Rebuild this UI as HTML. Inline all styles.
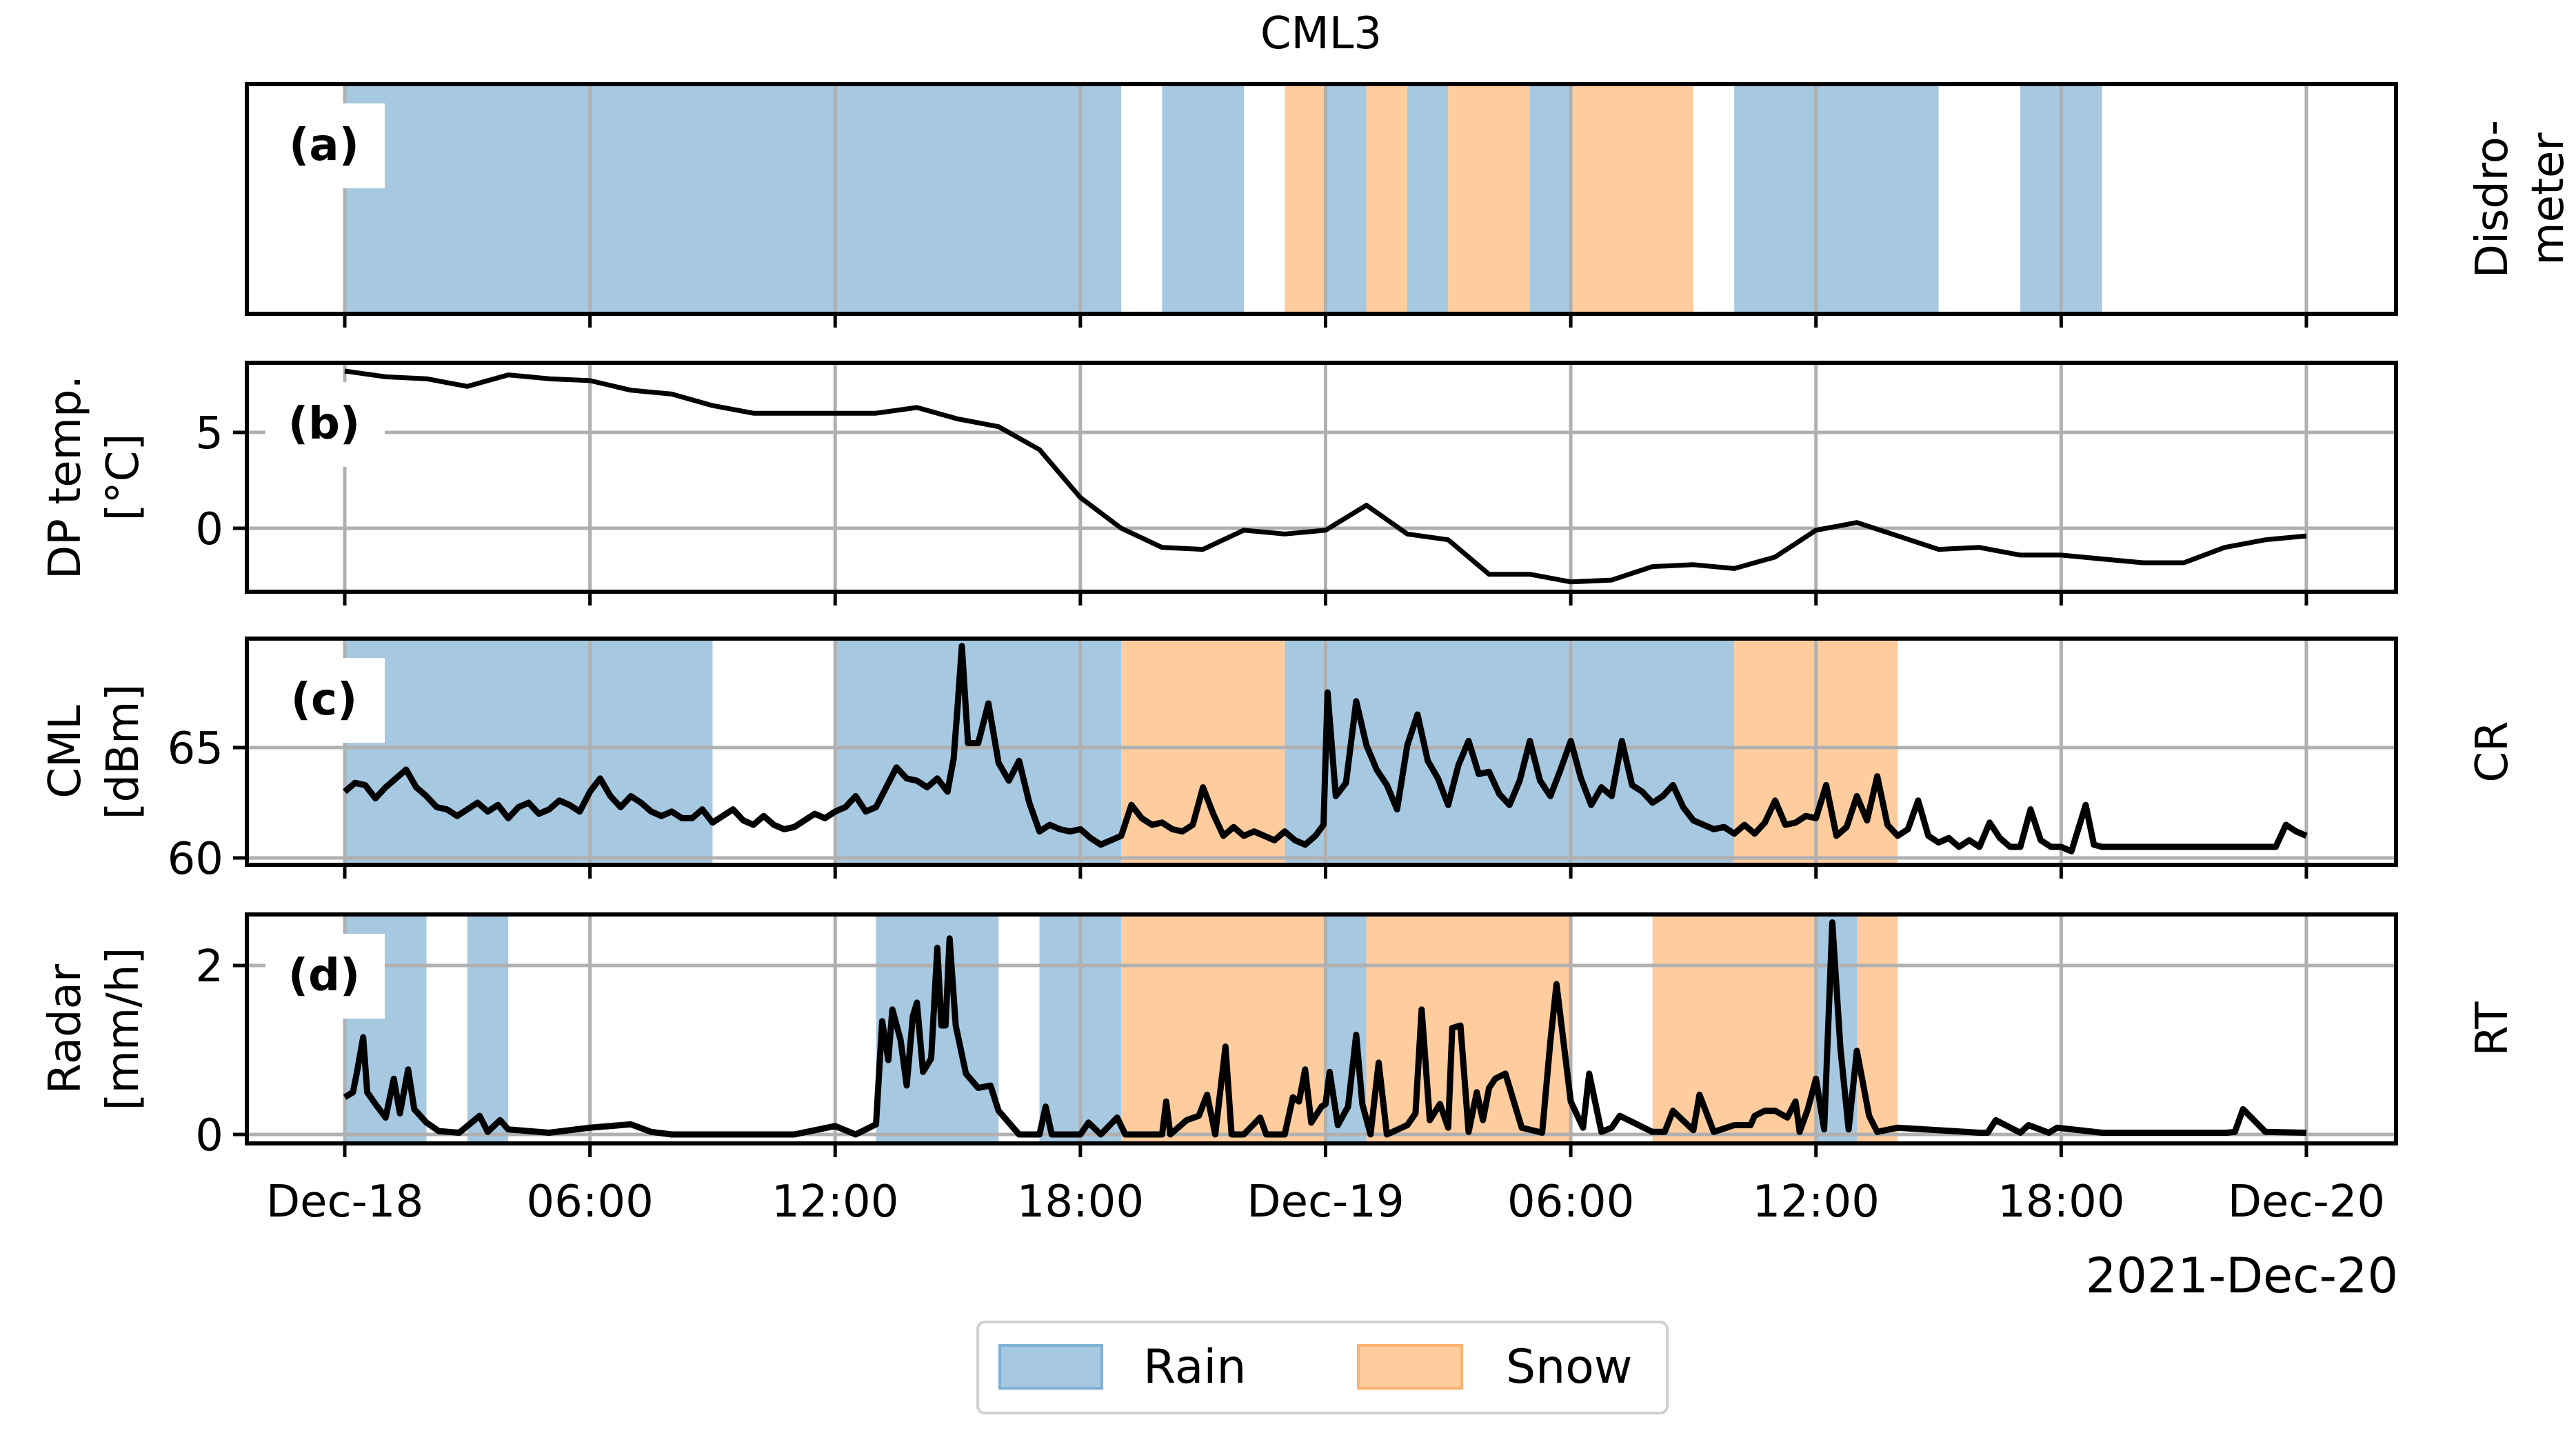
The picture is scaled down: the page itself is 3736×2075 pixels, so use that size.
<!DOCTYPE html>
<html><head><meta charset="utf-8"><style>
html,body{margin:0;padding:0;background:#fff;}
svg{display:block;font-family:"DejaVu Sans","Liberation Sans",sans-serif;}
</style></head><body>
<svg id="chart" xmlns="http://www.w3.org/2000/svg" width="3736" height="2075" viewBox="0 0 3736 2075"></svg>
<script>
// ---- data (hours since 2021-12-18 00:00) ----
const xTickLabels = ["Dec-18","06:00","12:00","18:00","Dec-19","06:00","12:00","18:00","Dec-20"];
const xTickHours = [0,6,12,18,24,30,36,42,48];
const disdroStart = [0,20,23,24,25,26,27,29,30,34,41];
const disdroEnd   = [19,22,24,25,26,27,29,30,33,39,43];
const disdroType  = ["rain","rain","snow","rain","snow","rain","snow","rain","snow","rain","rain"];
const crStart = [0,12,19,23,34];
const crEnd   = [9,19,23,34,38];
const crType  = ["rain","rain","snow","rain","snow"];
const rtStart = [0,3,13,17,19,24,25,32,36,37];
const rtEnd   = [2,4,16,19,24,25,30,36,37,38];
const rtType  = ["rain","rain","rain","rain","snow","rain","snow","snow","rain","snow"];
const tempHours = [0,1,2,3,4,5,6,7,8,9,10,11,12,13,14,15,16,17,18,19,20,21,22,23,24,25,26,27,28,29,30,31,32,33,34,35,36,37,38,39,40,41,42,43,44,45,46,47,48];
const tempValues = [8.2,7.9,7.8,7.4,8.0,7.8,7.7,7.2,7.0,6.4,6.0,6.0,6.0,6.0,6.3,5.7,5.3,4.1,1.6,0,-1.0,-1.1,-0.1,-0.3,-0.1,1.2,-0.3,-0.6,-2.4,-2.4,-2.8,-2.7,-2.0,-1.9,-2.1,-1.5,-0.1,0.3,-0.4,-1.1,-1.0,-1.4,-1.4,-1.6,-1.8,-1.8,-1.0,-0.6,-0.4];
const cmlHours = [0,0.25,0.5,0.75,1,1.25,1.5,1.75,2,2.25,2.5,2.75,3,3.25,3.5,3.75,4,4.25,4.5,4.75,5,5.25,5.5,5.75,6,6.25,6.5,6.75,7,7.25,7.5,7.75,8,8.25,8.5,8.75,9,9.25,9.5,9.75,10,10.25,10.5,10.75,11,11.25,11.5,11.75,12,12.25,12.5,12.75,13,13.25,13.5,13.75,14,14.25,14.5,14.75,14.9,15,15.1,15.25,15.5,15.75,16,16.25,16.5,16.75,17,17.25,17.5,17.75,18,18.25,18.5,18.75,19,19.25,19.5,19.75,20,20.25,20.5,20.75,21,21.25,21.5,21.75,22,22.25,22.5,22.75,23,23.25,23.5,23.75,23.95,24.05,24.25,24.5,24.75,25,25.25,25.5,25.75,26,26.25,26.5,26.75,27,27.25,27.5,27.75,28,28.25,28.5,28.75,29,29.25,29.5,29.75,30,30.25,30.5,30.75,31,31.25,31.5,31.75,32,32.25,32.5,32.75,33,33.25,33.5,33.75,34,34.25,34.5,34.75,35,35.25,35.5,35.75,36,36.25,36.5,36.75,37,37.25,37.5,37.75,38,38.25,38.5,38.75,39,39.25,39.5,39.75,40,40.25,40.5,40.75,41,41.25,41.5,41.75,42,42.25,42.6,42.8,43,43.5,44,44.5,45,45.5,46,46.5,47,47.25,47.5,47.75,48];
const cmlValues = [63.0,63.4,63.3,62.7,63.2,63.6,64.0,63.2,62.8,62.3,62.2,61.9,62.2,62.5,62.1,62.4,61.8,62.3,62.5,62.0,62.2,62.6,62.4,62.1,63.0,63.6,62.8,62.3,62.8,62.5,62.1,61.9,62.1,61.8,61.8,62.2,61.6,61.9,62.2,61.7,61.5,61.9,61.5,61.3,61.4,61.7,62.0,61.8,62.1,62.3,62.8,62.1,62.3,63.2,64.1,63.6,63.5,63.2,63.6,63.0,64.5,67.0,69.6,65.2,65.2,67.0,64.3,63.5,64.4,62.5,61.2,61.5,61.3,61.2,61.3,60.9,60.6,60.8,61.0,62.4,61.8,61.5,61.6,61.3,61.2,61.5,63.2,62.0,61.0,61.4,61.0,61.2,61.0,60.8,61.2,60.8,60.6,61.0,61.5,67.5,62.8,63.4,67.1,65.1,64.0,63.3,62.2,65.1,66.5,64.4,63.6,62.4,64.2,65.3,63.8,63.9,62.9,62.4,63.5,65.3,63.5,62.8,64.0,65.3,63.6,62.4,63.2,62.8,65.3,63.3,63.0,62.5,62.8,63.3,62.3,61.7,61.5,61.3,61.4,61.1,61.5,61.1,61.6,62.6,61.5,61.6,61.9,61.8,63.3,61.0,61.4,62.8,61.7,63.7,61.5,61.0,61.3,62.6,61.0,60.7,60.9,60.5,60.8,60.5,61.6,60.9,60.5,60.5,62.2,60.8,60.5,60.5,60.3,62.4,60.6,60.5,60.5,60.5,60.5,60.5,60.5,60.5,60.5,60.5,60.5,61.5,61.2,61.0];
const radarHours = [0,0.2,0.3,0.45,0.55,0.75,1,1.2,1.35,1.55,1.7,2,2.3,2.8,3.3,3.5,3.8,4,5,6,7,7.5,8,11,12,12.5,13,13.15,13.3,13.4,13.6,13.75,13.9,14,14.15,14.35,14.5,14.6,14.7,14.8,14.95,15.2,15.5,15.8,16,16.5,17,17.15,17.3,18,18.2,18.5,18.9,19.1,20,20.1,20.2,20.6,20.9,21.1,21.3,21.55,21.7,22,22.4,22.55,23,23.2,23.35,23.5,23.65,23.9,24,24.1,24.3,24.55,24.75,24.9,25.1,25.3,25.5,26,26.2,26.35,26.55,26.8,27,27.1,27.3,27.5,27.7,27.85,28,28.15,28.4,28.8,29.3,29.5,29.65,30,30.3,30.45,30.75,31,31.2,32,32.3,32.5,33,33.15,33.5,34,34.4,34.5,34.75,35,35.3,35.5,35.6,35.8,36,36.2,36.4,36.6,36.8,37,37.3,37.5,38,40,40.2,40.4,41,41.2,41.7,41.9,43,44,46,46.05,46.25,46.45,47,48];
const radarValues = [0.44,0.5,0.74,1.15,0.5,0.36,0.2,0.66,0.25,0.77,0.3,0.14,0.04,0.02,0.22,0.03,0.17,0.06,0.02,0.08,0.12,0.03,0.0,0.0,0.1,0.0,0.12,1.34,0.88,1.48,1.12,0.58,1.4,1.56,0.74,0.9,2.21,1.29,1.29,2.32,1.29,0.72,0.55,0.58,0.28,0.0,0.0,0.33,0.0,0.0,0.14,0.0,0.2,0.0,0.0,0.39,0.0,0.17,0.22,0.47,0.0,1.04,0.0,0.0,0.2,0.0,0.0,0.44,0.39,0.77,0.14,0.33,0.36,0.74,0.11,0.33,1.18,0.36,0.0,0.85,0.0,0.11,0.25,1.48,0.17,0.36,0.08,1.26,1.29,0.03,0.5,0.17,0.55,0.66,0.72,0.08,0.02,1.1,1.78,0.39,0.08,0.72,0.03,0.08,0.22,0.03,0.03,0.28,0.05,0.47,0.03,0.11,0.11,0.22,0.28,0.28,0.2,0.39,0.03,0.3,0.66,0.06,2.51,1.01,0.06,0.99,0.22,0.03,0.08,0.02,0.02,0.17,0.02,0.11,0.02,0.08,0.02,0.02,0.02,0.02,0.03,0.3,0.03,0.02,0.02];

// ---- layout ----
const NS="http://www.w3.org/2000/svg";
const svg=document.getElementById('chart');
const X0=500, PXH=59.27, LEFT=358, RIGHT=3475;
const FS=64;
function xOf(h){return X0+h*PXH;}
const RAIN="#a6c8e1", SNOW="#ffcc9e", GRID="#b0b0b0";
function el(tag,attrs,parent){const e=document.createElementNS(NS,tag);for(const k in attrs)e.setAttribute(k,attrs[k]);(parent||svg).appendChild(e);return e;}
function txt(s,attrs,parent){const e=el('text',attrs,parent);e.textContent=s;return e;}

const panels=[
 {id:'a',top:122,bot:455,starts:disdroStart,ends:disdroEnd,types:disdroType,yt:[],y:null,label:'(a)',right:['Disdro-','meter'],left:null},
 {id:'b',top:526,bot:858,y:v=>766-v*27.8,yt:[0,5],label:'(b)',left:['DP temp.','[°C]']},
 {id:'c',top:926,bot:1254,starts:crStart,ends:crEnd,types:crType,y:v=>1244-(v-60)*32,yt:[60,65],label:'(c)',left:['CML','[dBm]'],right:['CR']},
 {id:'d',top:1326,bot:1658,starts:rtStart,ends:rtEnd,types:rtType,y:v=>1645-v*122.5,yt:[0,2],label:'(d)',left:['Radar','[mm/h]'],right:['RT']}
];

const title=txt('CML3',{x:1916,y:70,'font-size':FS,'text-anchor':'middle'});



panels.forEach(p=>{
  const g=el('g',{});
  
  
  if(p.starts){
    for(let i=0;i<p.starts.length;i++){
      const r=el('rect',{x:xOf(p.starts[i]),y:p.top,width:xOf(p.ends[i])-xOf(p.starts[i]),height:p.bot-p.top,fill:p.types[i]==='rain'?RAIN:SNOW},g);
      
      
    }
  }
  xTickHours.forEach(h=>{
    const l=el('line',{x1:xOf(h),x2:xOf(h),y1:p.top,y2:p.bot,stroke:GRID,'stroke-width':5},g);
    
    
  });
  p.yt.forEach(v=>{
    const l=el('line',{x1:LEFT,x2:RIGHT,y1:p.y(v),y2:p.y(v),stroke:GRID,'stroke-width':5},g);
    
    
  });
  const bx=el('rect',{x:385,y:p.top+28,width:173,height:123,fill:'#fff'},g);
  
  
  const lt=txt(p.label,{x:470,y:p.top+110,'font-size':FS,'font-weight':'bold','text-anchor':'middle'},g);
  
  
  let hs=null,vs=null,nm='';
  if(p.id==='b'){hs=tempHours;vs=tempValues;nm='dp-temp-line';}
  if(p.id==='c'){hs=cmlHours;vs=cmlValues;nm='cml-line';}
  if(p.id==='d'){hs=radarHours;vs=radarValues;nm='radar-line';}
  if(hs){
    const d=hs.map((h,i)=>(i?'L':'M')+xOf(h).toFixed(1)+' '+p.y(vs[i]).toFixed(1)).join(' ');
    const path=el('path',{d:d,fill:'none',stroke:'#000','stroke-width':p.id==='b'?7:9,'stroke-linejoin':'round'},g);
    
    
  }
  const fr=el('rect',{x:LEFT,y:p.top,width:RIGHT-LEFT,height:p.bot-p.top,fill:'none',stroke:'#000','stroke-width':6},g);
  
  
  xTickHours.forEach(h=>{
    const t=el('line',{x1:xOf(h),x2:xOf(h),y1:p.bot,y2:p.bot+20,stroke:'#000','stroke-width':5},g);
    
    
  });
  p.yt.forEach(v=>{
    const t=el('line',{x1:LEFT-20,x2:LEFT,y1:p.y(v),y2:p.y(v),stroke:'#000','stroke-width':5},g);
    
    
    const tl=txt(String(v),{x:LEFT-34,y:p.y(v)+23,'font-size':FS,'text-anchor':'end'},g);
    
    
  });
  const cy=(p.top+p.bot)/2;
  if(p.left){
    const xs=[116,200];
    p.left.forEach((s,i)=>{
      const t=txt(s,{x:xs[i],y:cy,'font-size':FS,'text-anchor':'middle',transform:`rotate(-90 ${xs[i]} ${cy})`},g);
      
      
    });
  }
  if(p.right){
    const xs=p.right.length===2?[3636,3717]:[3636];
    p.right.forEach((s,i)=>{
      const t=txt(s,{x:xs[i],y:cy,'font-size':FS,'text-anchor':'middle',transform:`rotate(-90 ${xs[i]} ${cy})`},g);
      
      
    });
  }
});

xTickHours.forEach((h,i)=>{
  const t=txt(xTickLabels[i],{x:xOf(h),y:1764,'font-size':FS,'text-anchor':'middle'});
  
  
});
const off=txt('2021-Dec-20',{x:3478,y:1874,'font-size':70,'text-anchor':'end'});



const lg=el('g',{transform:'translate(-10,-11)'});


el('rect',{x:1428,y:1928,width:1000,height:132,rx:10,fill:'#fff',stroke:'#d0d0d0','stroke-width':4},lg);
const r1=el('rect',{x:1460,y:1962,width:148,height:62,fill:RAIN,stroke:'#7fb0d6','stroke-width':4},lg);


const t1=txt('Rain',{x:1668,y:2016,'font-size':68},lg);


const r2=el('rect',{x:1980,y:1962,width:150,height:62,fill:SNOW,stroke:'#ffb370','stroke-width':4},lg);


const t2=txt('Snow',{x:2194,y:2016,'font-size':68},lg);


</script>
</body></html>
